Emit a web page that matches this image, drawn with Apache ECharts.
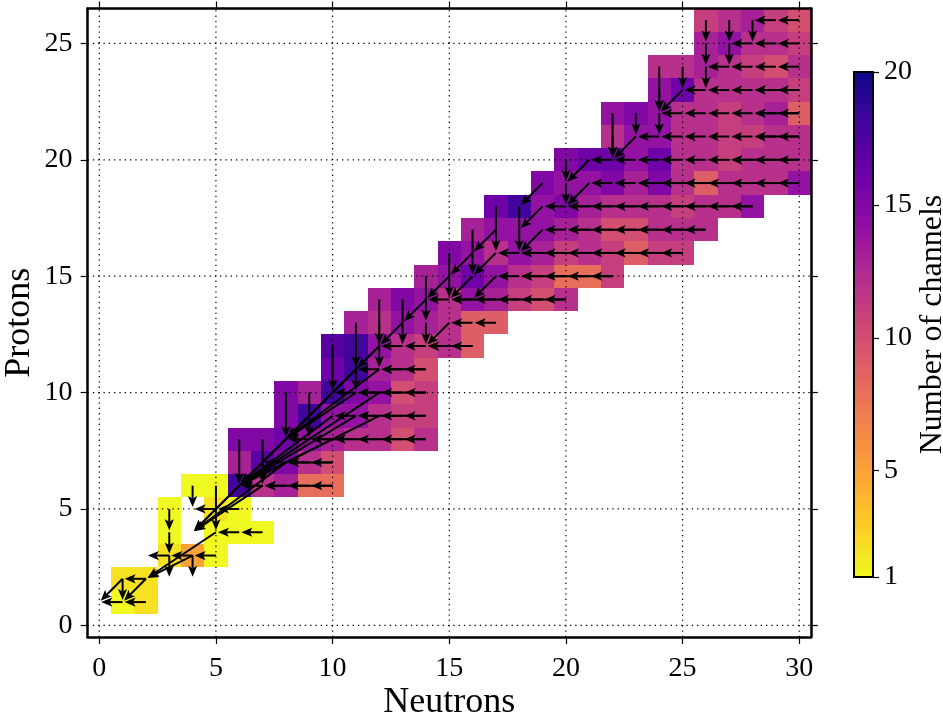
<!DOCTYPE html>
<html>
<head>
<meta charset="utf-8">
<script src="https://cdn.jsdelivr.net/npm/echarts@6/dist/echarts.min.js"></script>
<style>
html, body { margin: 0; padding: 0; background: #ffffff; }
#chart { width: 943px; height: 720px; }
</style>
</head>
<body>
<div id="chart"></div>
<script>
// Axis ticks
const neutronTicks = [0, 5, 10, 15, 20, 25, 30];
const protonTicks = [0, 5, 10, 15, 20, 25];
const channelTicks = [1, 5, 10, 15, 20];

// Nuclide chart: one row per proton number, starting at firstNeutron[Z-1]
const protonNumbers = [1,2,3,4,5,6,7,8,9,10,11,12,13,14,15,16,17,18,19,20,21,22,23,24,25,26];
const firstNeutron  = [1,1,3,3,3,4,6,6,8,8,10,10,11,12,14,15,16,17,19,20,22,22,24,24,26,26];
const channelCounts = [
  [1, 2],                                   // Z=1
  [2, 2],                                   // Z=2
  [2, 5, 1],                                // Z=3
  [1, null, 1, 1, 1],                       // Z=4
  [1, null, 2, 1],                          // Z=5
  [1, 1, 18, 12, 13, 8, 8],                 // Z=6
  [13, 17, 15, 12, 10],                     // Z=7
  [15, 15, 16, 14, 13, 12, 12, 10, 12],     // Z=8
  [15, 18, 14, 14, 12, 11, 11],             // Z=9
  [15, 13, 18, 15, 14, 10, 11],             // Z=10
  [16, 18, 13, 12, 10],                     // Z=11
  [17, 18, 14, 12, 11, 12, 9],              // Z=12
  [13, 12, 14, 13, 12, 9, 9],               // Z=13
  [13, 15, 14, 12, 14, 13, 11, 10, 12],     // Z=14
  [13, 14, 16, 14, 12, 11, 8, 8, 11],       // Z=15
  [15, 14, 12, 14, 13, 11, 12, 11, 9, 11, 11],      // Z=16
  [13, 14, 14, 14, 13, 12, 10, 10, 12, 12, 12],     // Z=17
  [16, 18, 14, 15, 13, 12, 12, 12, 11, 12, 12, 14], // Z=18
  [15, 14, 14, 15, 13, 15, 12, 9, 12, 12, 12, 14],  // Z=19
  [15, 16, 16, 14, 16, 12, 12, 11, 12, 12, 12],     // Z=20
  [12, 14, 14, 12, 12, 11, 11, 12, 12],     // Z=21
  [14, 15, 14, 12, 12, 11, 12, 13, 9],      // Z=22
  [14, 16, 12, 12, 12, 12, 11],             // Z=23
  [12, 12, 13, 12, 11, 10, 12],             // Z=24
  [13, 14, 12, 12, 11],                     // Z=25
  [11, 12, 13, 11, 10]                      // Z=26
];

// Single-neutron emission chains: [Z, from N, down to N]
const neutronChains = [
  [26,30,28],[25,30,27],[24,30,26],[23,30,25],[22,30,24],[21,30,23],[20,30,21],
  [19,30,21],[18,28,19],[17,26,19],[16,25,17],[15,22,17],[14,20,14],[13,17,15],
  [12,16,12],[11,14,11],[10,14,10],[9,14,10],[8,14,8],[7,10,7],[6,10,6],
  [5,6,4],[4,7,5],[3,5,2],[2,2,1],[1,2,0]
];

// Multi-neutron emission: [N0, Z0, N1, Z1]
const multiNeutron = [
  [30,23,28,23],[30,22,28,22],[30,21,28,21],[30,20,27,20],[30,19,23,19],
  [28,18,20,18],[26,17,20,17],[25,16,18,16],[22,15,18,15],[20,14,15,14],
  [16,12,14,12],[14,11,12,11],[14,10,11,10],[14,9,11,9],[14,8,9,8],
  [10,7,8,7],[10,6,7,6]
];

// Proton emission
const protonEmission = [
  [26,26,26,25],[27,26,27,25],[28,26,28,25],[26,25,26,24],[27,25,27,24],
  [26,24,26,23],[25,24,25,23],[24,24,24,22],[24,23,24,22],[24,22,24,21],
  [23,22,23,21],[22,22,22,20],[22,21,22,20],[20,20,20,19],[20,19,20,18],
  [18,18,18,16],[17,18,17,16],[16,17,16,15],[15,16,15,14],[14,15,14,13],
  [13,14,13,12],[12,14,12,12],[14,13,14,12],[12,13,12,11],[11,13,11,11],
  [10,12,10,10],[11,12,11,10],[9,10,9,8],[8,10,8,8],[7,8,7,6],[6,8,6,6],
  [5,6,5,4],[4,6,4,5],[3,5,3,4],[3,4,3,3],[3,3,3,2],[4,3,4,2],[1,2,1,1]
];

// Neutron + proton emission
const mixedEmission = [
  [25,23,24,22],[23,21,22,20],[21,20,20,19],[21,19,20,18],[19,19,18,18],
  [19,18,18,17],[19,17,18,16],[17,17,16,16],[17,16,16,15],[16,16,15,15],
  [17,15,16,14],[16,15,15,14],[15,15,14,14],[14,14,13,13],[15,13,14,12],
  [13,13,12,12],[12,12,11,11],[2,2,1,1],[1,2,0,1]
];

// Cluster break-up toward light cores
const clusterDecays = [
  [11,11,8,8],[12,12,8,8],[11,10,8,8],[12,11,8,8],
  [8,8,6,6],[10,10,6,6],[10,9,6,6],[9,9,6,6],[11,9,6,6],[12,10,6,6],[12,9,6,6],[10,8,6,6],
  [6,6,4,4],[7,6,4,4],[7,7,4,4],[8,7,4,4],
  [5,4,2,2],[4,3,2,2]
];

// plasma colour map, low -> high
const plasma = ['#0d0887','#41049d','#6a00a8','#8f0da4','#b12a90','#cc4778',
                '#e16462','#f2844b','#fca636','#fcce25','#f0f921'];

// ---- build series data ----
const cellData = [];
protonNumbers.forEach(function (z, i) {
  channelCounts[i].forEach(function (v, k) {
    if (v !== null) cellData.push([firstNeutron[i] + k, z, v]);
  });
});

const arrowData = [];
neutronChains.forEach(function (c) {
  for (let n = c[1]; n > c[2]; n--) arrowData.push([n, c[0], n - 1, c[0]]);
});
[multiNeutron, protonEmission, mixedEmission, clusterDecays].forEach(function (list) {
  list.forEach(function (a) { arrowData.push(a.slice()); });
});

const gridData = neutronTicks.map(function (v) { return [v, 0, 0]; })
  .concat(protonTicks.map(function (v) { return [0, v, 1]; }));

const FONT = 'Liberation Serif';
const xMin = -0.5, xMax = 30.5, yMin = -0.5, yMax = 26.5;

function renderCell(params, api) {
  const n = api.value(0), z = api.value(1);
  const a = api.coord([n - 0.5, z + 0.5]);
  const b = api.coord([n + 0.5, z - 0.5]);
  const x0 = Math.round(a[0]), y0 = Math.round(a[1]);
  const x1 = Math.round(b[0]), y1 = Math.round(b[1]);
  return {
    type: 'rect',
    shape: { x: x0, y: y0, width: x1 - x0, height: y1 - y0 },
    style: { fill: api.visual('color'), stroke: null }
  };
}

function renderGridLine(params, api) {
  let p0, p1;
  if (api.value(2) === 0) {
    p0 = api.coord([api.value(0), yMin]); p1 = api.coord([api.value(0), yMax]);
  } else {
    p0 = api.coord([xMin, api.value(1)]); p1 = api.coord([xMax, api.value(1)]);
  }
  return {
    type: 'line',
    shape: { x1: p0[0], y1: p0[1], x2: p1[0], y2: p1[1] },
    style: { stroke: '#000', lineWidth: 1.2, lineDash: [1.3, 4] }
  };
}

function renderArrow(params, api) {
  const p0 = api.coord([api.value(0), api.value(1)]);
  const p1 = api.coord([api.value(2), api.value(3)]);
  const dx = p1[0] - p0[0], dy = p1[1] - p0[1];
  const len = Math.sqrt(dx * dx + dy * dy);
  const ux = dx / len, uy = dy / len;
  const tip = [p1[0] - ux * 2, p1[1] - uy * 2];
  const headLen = 11, headW = 4.6, notch = 2.5;
  const base = [tip[0] - ux * headLen, tip[1] - uy * headLen];
  const nx = -uy, ny = ux;
  return {
    type: 'group',
    children: [
      {
        type: 'line',
        shape: { x1: p0[0], y1: p0[1], x2: base[0] + ux * notch, y2: base[1] + uy * notch },
        style: { stroke: '#000', lineWidth: 2 }
      },
      {
        type: 'polygon',
        shape: { points: [tip,
          [base[0] + nx * headW, base[1] + ny * headW],
          [base[0] + ux * notch, base[1] + uy * notch],
          [base[0] - nx * headW, base[1] - ny * headW]] },
        style: { fill: '#000' }
      }
    ]
  };
}

function renderColorbar(params, api) {
  const a = api.coord([0, 20]);
  const b = api.coord([1, 1]);
  const stops = plasma.map(function (c, i) { return { offset: i / 10, color: c }; });
  return {
    type: 'rect',
    shape: { x: a[0], y: a[1], width: b[0] - a[0], height: b[1] - a[1] },
    style: {
      fill: { type: 'linear', x: 0, y: 0, x2: 0, y2: 1, colorStops: stops },
      stroke: '#000', lineWidth: 2
    }
  };
}

const tickLabel = { fontFamily: FONT, fontSize: 28, color: '#000' };
const frameLine = { show: true, onZero: false, lineStyle: { color: '#000', width: 2.5 } };
const tickStyle = { length: 7, lineStyle: { color: '#000', width: 1.2 } };
const nameStyle = { fontFamily: FONT, fontSize: 36, color: '#000' };

const option = {
  backgroundColor: '#ffffff',
  animation: false,
  grid: [
    { left: 87.6, top: 8.5, width: 723.3, height: 628.5, containLabel: false, outerBoundsMode: 'none' },
    { left: 854, top: 72, width: 19, height: 505, containLabel: false, outerBoundsMode: 'none' }
  ],
  xAxis: [
    {
      gridIndex: 0, type: 'value', min: xMin, max: xMax, position: 'bottom', z: 5,
      axisLine: frameLine,
      axisTick: Object.assign({ customValues: neutronTicks }, tickStyle),
      axisLabel: Object.assign({ customValues: neutronTicks, margin: 18 }, tickLabel),
      splitLine: { show: false },
      name: 'Neutrons', nameLocation: 'middle', nameGap: 48, nameMoveOverlap: false,
      nameTextStyle: nameStyle
    },
    {
      gridIndex: 0, type: 'value', min: xMin, max: xMax, position: 'top', z: 5,
      axisLine: frameLine,
      axisTick: Object.assign({ customValues: neutronTicks }, tickStyle),
      axisLabel: { show: false },
      splitLine: { show: false }
    },
    {
      gridIndex: 1, type: 'value', min: 0, max: 1, show: false
    }
  ],
  yAxis: [
    {
      gridIndex: 0, type: 'value', min: yMin, max: yMax, position: 'left', z: 5,
      axisLine: frameLine,
      axisTick: Object.assign({ customValues: protonTicks }, tickStyle),
      axisLabel: Object.assign({ customValues: protonTicks, margin: 15 }, tickLabel),
      splitLine: { show: false },
      name: 'Protons', nameLocation: 'middle', nameGap: 50, nameRotate: 90, nameMoveOverlap: false,
      nameTextStyle: nameStyle
    },
    {
      gridIndex: 0, type: 'value', min: yMin, max: yMax, position: 'right', z: 5,
      axisLine: frameLine,
      axisTick: Object.assign({ customValues: protonTicks }, tickStyle),
      axisLabel: { show: false },
      splitLine: { show: false }
    },
    {
      gridIndex: 1, type: 'value', min: 1, max: 20, position: 'right', z: 5,
      axisLine: { show: false, onZero: false },
      axisTick: { customValues: channelTicks, length: 6, lineStyle: { color: '#000', width: 1.2 } },
      axisLabel: Object.assign({ customValues: channelTicks, margin: 11 }, tickLabel),
      splitLine: { show: false },
      name: 'Number of channels', nameLocation: 'middle', nameGap: 44, nameRotate: 90, nameMoveOverlap: false,
      nameTextStyle: { fontFamily: FONT, fontSize: 32, color: '#000' }
    }
  ],
  visualMap: {
    type: 'continuous', show: false, min: 1, max: 20, dimension: 2, seriesIndex: 0,
    inRange: { color: plasma.slice().reverse() }
  },
  series: [
    {
      name: 'channels', type: 'custom', xAxisIndex: 0, yAxisIndex: 0, z: 1,
      renderItem: renderCell, data: cellData, encode: { x: 0, y: 1 }
    },
    {
      name: 'grid', type: 'custom', xAxisIndex: 0, yAxisIndex: 0, z: 2, silent: true,
      renderItem: renderGridLine, data: gridData, encode: { x: 0, y: 1 }
    },
    {
      name: 'decays', type: 'custom', xAxisIndex: 0, yAxisIndex: 0, z: 3, silent: true,
      renderItem: renderArrow, data: arrowData, encode: { x: [0, 2], y: [1, 3] }
    },
    {
      name: 'colorbar', type: 'custom', xAxisIndex: 2, yAxisIndex: 2, z: 1, silent: true,
      renderItem: renderColorbar, data: [[0, 1, 1, 20]], encode: { x: [0, 2], y: [1, 3] }
    }
  ]
};

const chart = echarts.init(document.getElementById('chart'), null, { renderer: 'canvas' });
chart.setOption(option);
</script>
</body>
</html>
